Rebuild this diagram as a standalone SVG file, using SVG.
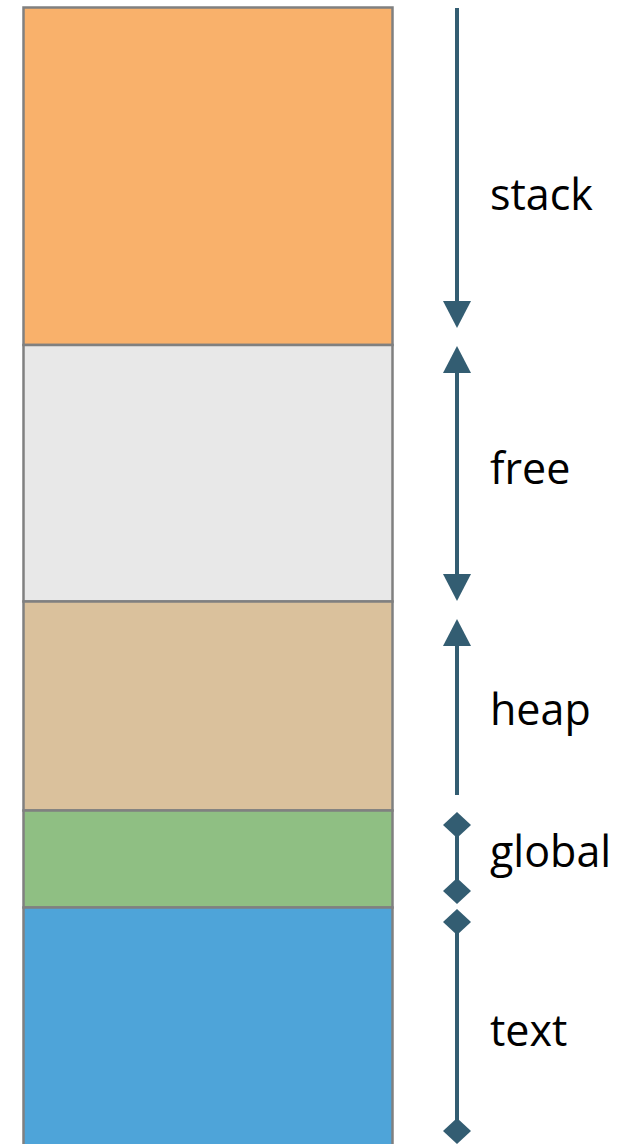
<svg xmlns="http://www.w3.org/2000/svg" width="626" height="1144" viewBox="0 0 626 1144">
<style>
.seg{stroke:#808080;stroke-width:2.5}
.lbl{font-family:"Open Sans","Liberation Sans",sans-serif;font-size:43px;fill:#000}
.conn{stroke:#335D72;stroke-width:4;fill:none}
</style>
<defs>
<marker id="arr" viewBox="0 0 28 28" refX="0" refY="14" markerWidth="28" markerHeight="28" markerUnits="userSpaceOnUse" orient="auto-start-reverse">
<path d="M0,0 L27,14 L0,28 Z" fill="#335D72"/>
</marker>
<marker id="dia" viewBox="0 0 28 28" refX="14" refY="14" markerWidth="28" markerHeight="28" markerUnits="userSpaceOnUse" orient="auto">
<path d="M1,14 L14,0 L27,14 L14,28 Z" fill="#335D72"/>
</marker>
</defs>
<g id="stack">
<rect class="seg" x="23.5" y="7.5" width="369" height="337.5" fill="#F9B16B"/>
<text class="lbl" x="490" y="210">stack</text>
</g>
<g id="free">
<rect class="seg" x="23.5" y="345" width="369" height="256.5" fill="#E8E8E8"/>
<text class="lbl" x="490" y="484">free</text>
</g>
<g id="heap">
<rect class="seg" x="23.5" y="601.5" width="369" height="209" fill="#DAC19C"/>
<text class="lbl" x="490" y="725">heap</text>
</g>
<g id="global">
<rect class="seg" x="23.5" y="810.5" width="369" height="97" fill="#8FBF83"/>
<text class="lbl" x="490" y="867">global</text>
</g>
<g id="text">
<rect class="seg" x="23.5" y="907.5" width="369" height="250" fill="#4EA4D9"/>
<text class="lbl" x="490" y="1046">text</text>
</g>
<g id="connectors">
<line class="conn" x1="457" y1="8" x2="457" y2="301" marker-end="url(#arr)"/>
<line class="conn" x1="457" y1="373" x2="457" y2="574" marker-start="url(#arr)" marker-end="url(#arr)"/>
<line class="conn" x1="457" y1="646" x2="457" y2="795" marker-start="url(#arr)"/>
<line class="conn" x1="457" y1="825" x2="457" y2="891" marker-start="url(#dia)" marker-end="url(#dia)"/>
<line class="conn" x1="457" y1="922" x2="457" y2="1131" marker-start="url(#dia)" marker-end="url(#dia)"/>
</g>
</svg>
